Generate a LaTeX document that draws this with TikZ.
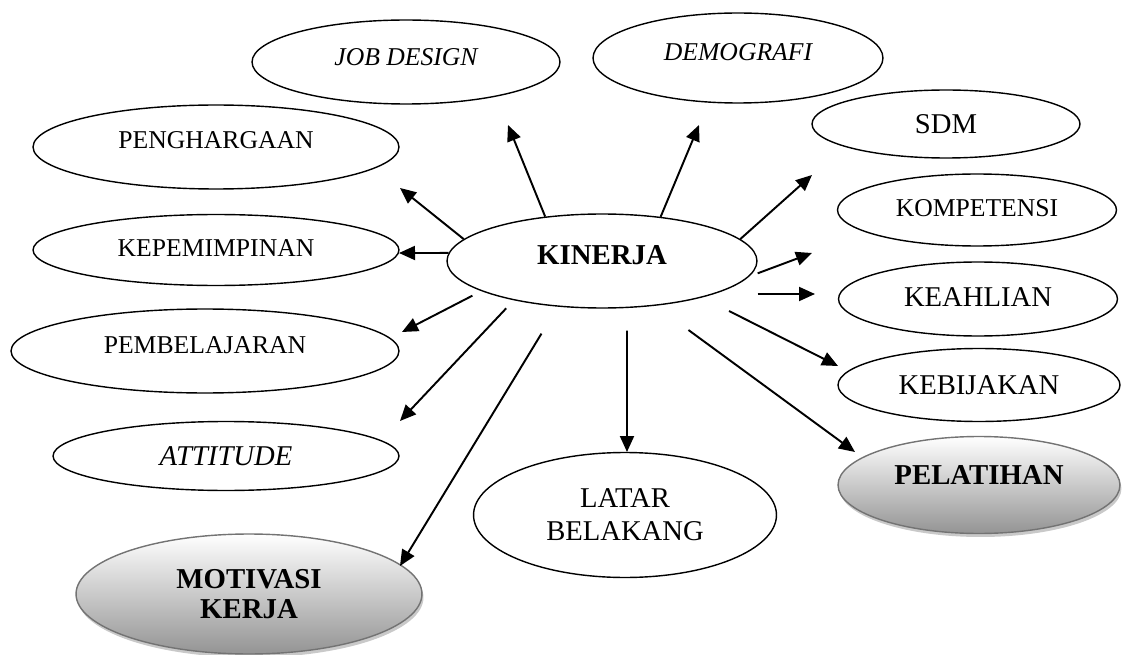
\documentclass[tikz,border=0pt]{standalone}
\usepackage{fontspec}
\setmainfont{Liberation Serif}
\usepackage{tikz}
\usetikzlibrary{arrows.meta}
\usetikzlibrary{shapes}
\usetikzlibrary{shadows}
\begin{document}
\begin{tikzpicture}[x=0.02cm, y=-0.02cm,
        node_style/.style={ellipse,draw=black,line width=0.8pt,inner sep=1pt,font=\fontsize{14.6}{17}\selectfont},
        big_node_style/.style={node_style,font=\fontsize{16.3}{18.8}\selectfont},
        main_node_style/.style={node_style,font=\fontsize{16.4}{17}\selectfont\bfseries},
        shaded_node_style/.style={main_node_style,draw=black!55,top color=white,bottom color=black!42,
            drop shadow={shadow xshift=0.03cm,shadow yshift=-0.07cm,fill=black!30,opacity=0.7}},
        edge_style/.style={draw=black,line width=1.1pt,-{Triangle[length=0.32cm,width=0.28cm]}}]

        \useasboundingbox (0,0) rectangle (1129,655);

        \node [main_node_style, minimum width=6.2cm, minimum height=1.88cm, text depth=0.24cm] (kinerja) at (602,261) {KINERJA};
        \node [node_style, minimum width=6.16cm, minimum height=1.68cm, text depth=0.2cm] (jobdesign) at (406,62) {\itshape JOB DESIGN};
        \node [node_style, minimum width=5.8cm, minimum height=1.8cm, text depth=0.24cm] (demografi) at (738,58) {\itshape DEMOGRAFI};
        \node [big_node_style, minimum width=5.36cm, minimum height=1.36cm] (sdm) at (946,124) {SDM};
        \node [node_style, minimum width=7.32cm, minimum height=1.68cm, text depth=0.28cm] (penghargaan) at (216,147) {PENGHARGAAN};
        \node [node_style, minimum width=5.58cm, minimum height=1.44cm, text depth=0.08cm] (kompetensi) at (977,210) {KOMPETENSI};
        \node [node_style, minimum width=7.32cm, minimum height=1.42cm, text depth=0.08cm] (kepemimpinan) at (216,250) {KEPEMIMPINAN};
        \node [big_node_style, minimum width=5.58cm, minimum height=1.48cm, text depth=0.08cm] (keahlian) at (978,299) {KEAHLIAN\hspace{0.44cm}};
        \node [node_style, minimum width=7.76cm, minimum height=1.68cm, text depth=0.24cm] (pembelajaran) at (205,351) {PEMBELAJARAN};
        \node [big_node_style, minimum width=5.64cm, minimum height=1.46cm] (kebijakan) at (979,385) {KEBIJAKAN};
        \node [big_node_style, minimum width=6.92cm, minimum height=1.38cm] (attitude) at (226,456) {\itshape ATTITUDE\hspace{1.64cm}};
        \node [shaded_node_style, minimum width=5.64cm, minimum height=1.94cm, text depth=0.4cm] (pelatihan) at (979,485) {PELATIHAN};
        \node [big_node_style, align=center, minimum width=6.06cm, minimum height=2.5cm] (latar) at (625,515) {LATAR\\BELAKANG};
        \node [shaded_node_style, align=center, minimum width=6.92cm, minimum height=2.4cm] (motivasi) at (249,594) {MOTIVASI\\KERJA};

        \coordinate (tip_jobdesign) at (508,125);
        \coordinate (tip_demografi) at (699,125);
        \coordinate (tip_sdm) at (812,175);
        \coordinate (tip_kompetensi) at (812,253);
        \coordinate (tip_keahlian) at (815,294);
        \coordinate (tip_kebijakan) at (838,366);
        \coordinate (tip_pelatihan) at (855,452);
        \coordinate (tip_latar) at (627,452);
        \coordinate (tip_motivasi) at (400,566);
        \coordinate (tip_attitude) at (400,421);
        \coordinate (tip_pembelajaran) at (402,332);
        \coordinate (tip_kepemimpinan) at (399,253);
        \coordinate (tip_penghargaan) at (400,188);

        \draw [edge_style] (kinerja.142) -- (tip_jobdesign);
        \draw [edge_style] (kinerja.37) -- (tip_demografi);
        \draw [edge_style] (kinerja.9) -- (tip_sdm);
        \draw [edge_style, shorten <=0.18cm] (kinerja.-6) -- (tip_kompetensi);
        \draw [edge_style] (kinerja.east |- tip_keahlian) -- (tip_keahlian);
        \draw [edge_style, shorten <=0.6cm] (kinerja.-20) -- (tip_kebijakan);
        \draw [edge_style, shorten <=0.82cm] (kinerja.-40) -- (tip_pelatihan);
        \draw [edge_style, shorten <=0.45cm] (kinerja.-62) -- (tip_latar);
        \draw [edge_style, shorten <=0.63cm] (kinerja.-134) -- (tip_motivasi);
        \draw [edge_style, shorten <=0.22cm] (kinerja.-156) -- (tip_attitude);
        \draw [edge_style, shorten <=0.2cm] (kinerja.-166) -- (tip_pembelajaran);
        \draw [edge_style] (kinerja.177) -- (tip_kepemimpinan);
        \draw [edge_style] (kinerja.171) -- (tip_penghargaan);
\end{tikzpicture}
\end{document}
